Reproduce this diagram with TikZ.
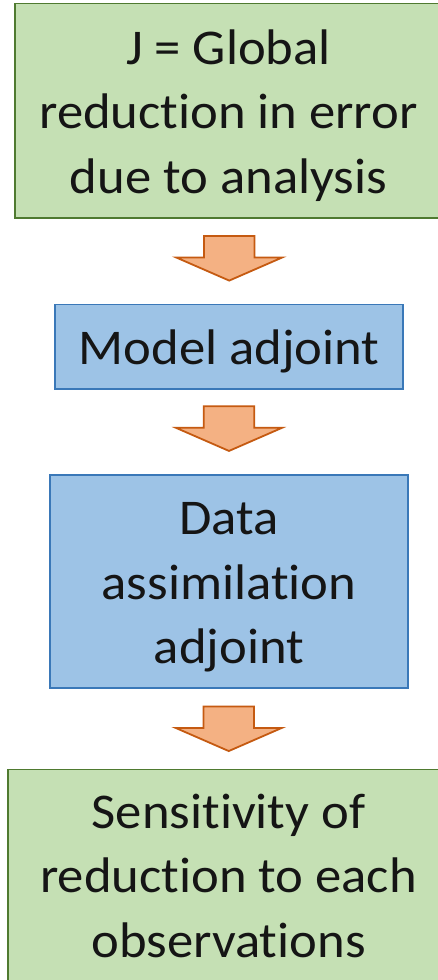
\documentclass[tikz,border=0pt]{standalone}
\usepackage{fontspec}
\setmainfont{Carlito}[Ligatures=NoCommon, FakeStretch=1.053]
\usetikzlibrary{calc}

\definecolor{boxgreen}{HTML}{C5E0B4}
\definecolor{greenedge}{HTML}{4F7A30}
\definecolor{boxblue}{HTML}{9DC3E6}
\definecolor{blueedge}{HTML}{3A78B8}
\definecolor{arrowfill}{HTML}{F4B183}
\definecolor{arrowedge}{HTML}{C55A11}
\definecolor{inkblack}{HTML}{151515}

% vertical struts: fixed ascent on the first line, given depth on the last
\newcommand\topline{\rule{0pt}{50pt}}
\newcommand\botline[1]{\rule[-#1]{0pt}{#1}}

\tikzset{
  box/.style={draw, line width=1.8pt, inner sep=0pt, align=center,
    font=\fontsize{50}{64.5}\selectfont, text=inkblack},
  greenbox/.style={box, fill=boxgreen, draw=greenedge},
  bluebox/.style={box, fill=boxblue, draw=blueedge},
  blockarrow/.style={fill=arrowfill, draw=arrowedge, line width=1.8pt, line join=miter},
  pics/downarrow/.style={code={
    \draw[blockarrow] (-25.3,-22.3) -- (25.3,-22.3) -- (25.3,-0.8) -- (53,-0.8)
      -- (0,22.3) -- (-53,-0.8) -- (-25.3,-0.8) -- cycle;
  }}
}

\begin{document}
\begin{tikzpicture}[x=1pt, y=-1pt]
  \useasboundingbox (0,0) rectangle (438,980);
  \fill[white] (0,0) rectangle (438,980);
  \clip (0,0) rectangle (438,980);

  \node[greenbox, minimum width=427pt, minimum height=214.5pt] (goal) at (228.5,110.75)
    {\topline J = Global\\reduction in error\\due to analysis\botline{14.5pt}};
  \node[bluebox, minimum width=348pt, minimum height=84.5pt] (model) at (229,346.75)
    {\topline Model adjoint\botline{15.5pt}};
  \node[bluebox, minimum width=358pt, minimum height=213pt] (assim) at (229,581.5)
    {\topline Data\\assimilation\\adjoint\botline{15pt}};
  \node[greenbox, minimum width=441pt, minimum height=213.5pt] (sens) at (228.5,876.25)
    {\topline Sensitivity of\\reduction to each\\observations\botline{17.5pt}};

  % block arrows in the gaps between the boxes
  \coordinate (gapA) at ($(goal.south)!0.465!(model.north) + (0.5,0)$);
  \coordinate (gapB) at ($(model.south)!0.46!(assim.north)$);
  \coordinate (gapC) at ($(assim.south)!0.5!(sens.north)$);
  \pic at (gapA) {downarrow};
  \pic at (gapB) {downarrow};
  \pic at (gapC) {downarrow};
\end{tikzpicture}
\end{document}
